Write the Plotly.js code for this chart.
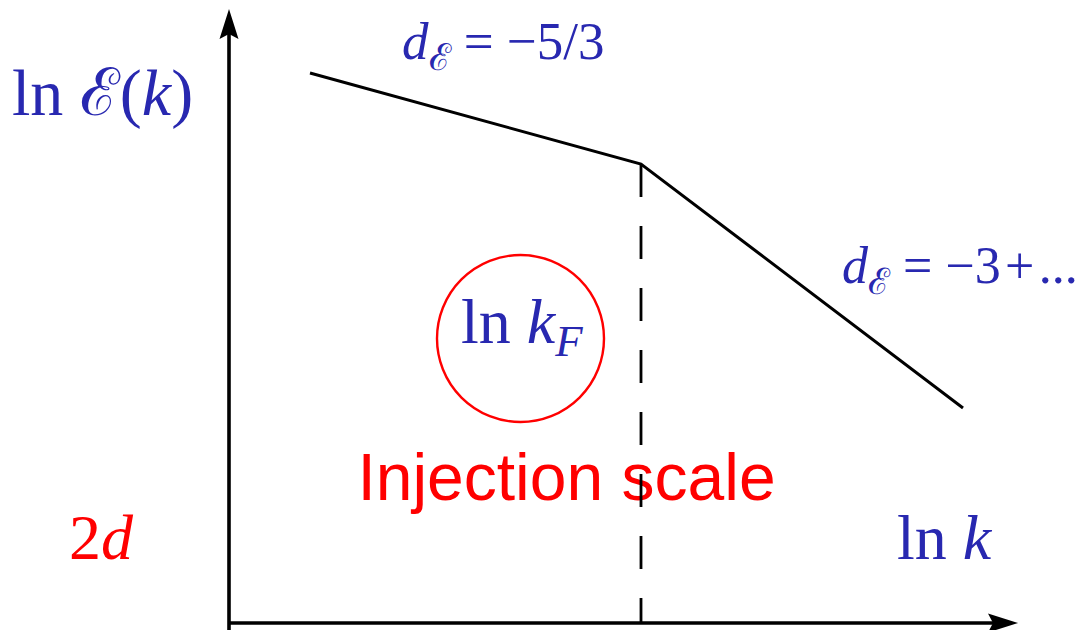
<!DOCTYPE html>
<html><head><meta charset="utf-8">
<script src="https://cdn.plot.ly/plotly-3.0.1.min.js"></script>
<style>html,body{margin:0;padding:0;background:#fff}#chart{width:1082px;height:630px}</style>
</head><body><div id="chart"></div>
<script>
// Schematic energy spectrum, arbitrary log units
const lnk = [0.81, 4.12, 7.34];
const lnE = [5.50, 4.59, 2.15];
const lnkF = 4.12;          // injection wavenumber
const lnEAtF = 4.59;        // spectrum value at the break
const axisEnd = [7.89, 6.14]; // arrow tips of the k-axis and E-axis
const slopeLabels = [
  "<i>d</i><sub>ℰ</sub>\u2005=\u2005−5/3",
  "<i>d</i><sub>ℰ</sub>\u2005=\u2005−3\u200a+\u200a..."
];
const yLabel = "ln ℰ(<i>k</i>)";
const xLabel = "ln <i>k</i>";
const kFLabel = "ln <i>k</i><sub><i>F</i></sub>";
const dimLabel = "2<i>d</i>";
const injectionLabel = "Injection scale";

const BLUE = "#2828b0", RED = "#ff0000";
const MATH = "Liberation Serif, DejaVu Serif, serif";

const traces = [
  { x: [3.375], y: [1.40], mode: "text", text: [injectionLabel], textposition: "middle center",
    textfont: { family: "Liberation Sans, Arial, sans-serif", size: 66, color: RED }, hoverinfo: "skip" },
  { x: lnk, y: lnE, mode: "lines", line: { color: "#000", width: 3 }, hoverinfo: "skip" },
  { x: [lnkF, lnkF], y: [lnEAtF, 0], mode: "lines", line: { color: "#000", width: 2.8, dash: "33px,29px" }, hoverinfo: "skip" },
  { x: [0, axisEnd[0] - 0.25], y: [0, 0], mode: "lines", line: { color: "#000", width: 3.6 }, hoverinfo: "skip" },
  { x: [0, 0], y: [-0.1, axisEnd[1] - 0.25], mode: "lines", line: { color: "#000", width: 3.6 }, hoverinfo: "skip" }
];

const shapes = [
  { type: "circle", xref: "x", yref: "y", x0: 2.08, x1: 3.75, y0: 2.01, y1: 3.68,
    line: { color: RED, width: 2.4 } },
  { type: "path", xref: "x", yref: "y", xsizemode: "pixel", ysizemode: "pixel",
    xanchor: 0, yanchor: axisEnd[1], path: "M0,0 L-9.5,-30 L0,-25 L9.5,-30 Z",
    fillcolor: "#000", line: { width: 0 } },
  { type: "path", xref: "x", yref: "y", xsizemode: "pixel", ysizemode: "pixel",
    xanchor: axisEnd[0], yanchor: 0, path: "M0,0 L-30,9.5 L-25,0 L-30,-9.5 Z",
    fillcolor: "#000", line: { width: 0 } }
];

function lab(text, x, y, size, color, xanchor) {
  return { text, x, y, xref: "x", yref: "y", showarrow: false, xanchor: xanchor || "left", yanchor: "middle",
    font: { family: MATH, size, color } };
}

const annotations = [
  lab(yLabel, -2.19, 5.30, 66, BLUE),
  lab(slopeLabels[0], 1.71, 5.78, 53, BLUE),
  lab(slopeLabels[1], 6.11, 3.54, 52, BLUE),
  lab(kFLabel, 2.93, 2.97, 64, BLUE, "center"),
  lab(dimLabel, -1.62, 0.86, 64, RED),
  lab(xLabel, 6.66, 0.86, 64, BLUE)
];

const layout = {
  width: 1082, height: 630,
  margin: { l: 0, r: 0, t: 0, b: 0 },
  paper_bgcolor: "#fff", plot_bgcolor: "#fff",
  showlegend: false,
  xaxis: { range: [-2.29, 8.53], visible: false, fixedrange: true },
  yaxis: { range: [-0.07, 6.23], visible: false, fixedrange: true },
  shapes, annotations
};

Plotly.newPlot("chart", traces, layout, { staticPlot: true, displayModeBar: false });
</script>
</body></html>
